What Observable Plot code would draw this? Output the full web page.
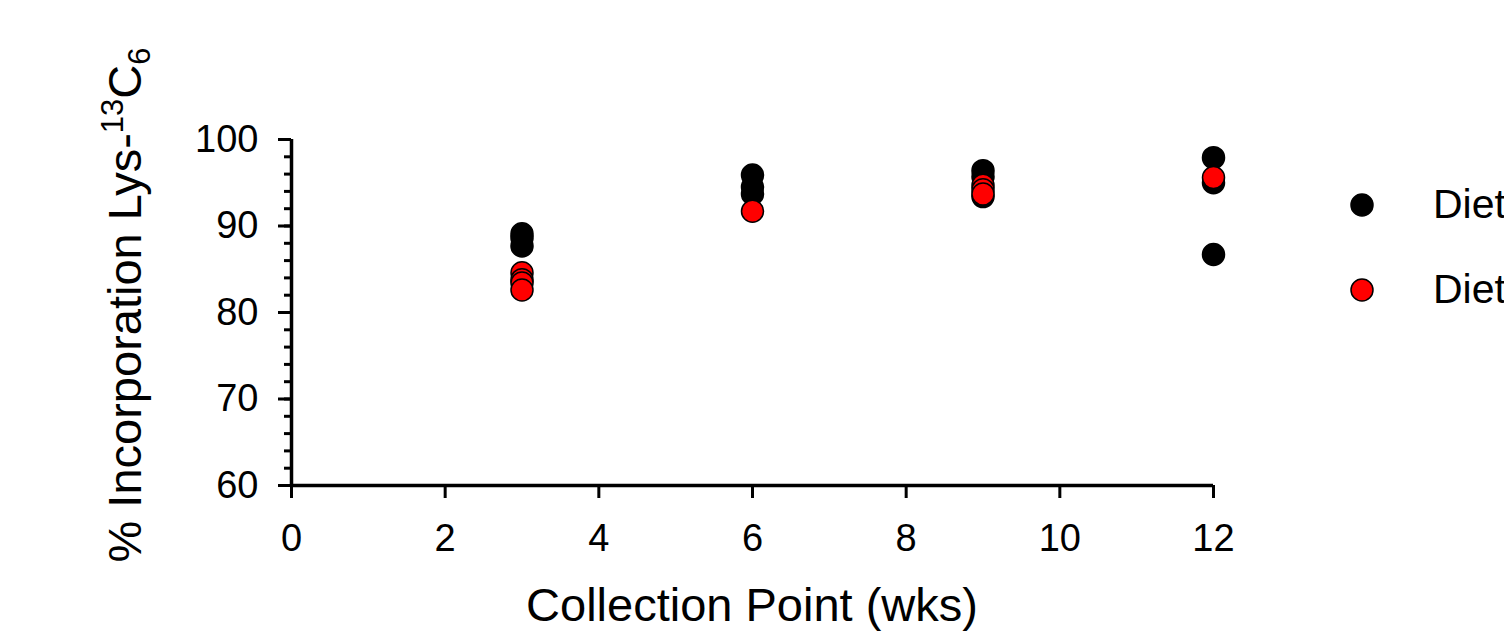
<!DOCTYPE html>
<html>
<head>
<meta charset="utf-8">
<script src="https://cdn.jsdelivr.net/npm/d3@7"></script>
<script src="https://cdn.jsdelivr.net/npm/@observablehq/plot@0.6"></script>
<style>
  html, body { margin: 0; padding: 0; background: #fff; overflow: hidden; }
  #wrap { position: relative; width: 1504px; height: 642px; font-family: "Liberation Sans", Arial, sans-serif; }
  #legend { position: absolute; left: 1349px; top: 162px; font-size: 41px; color: #000; }
  .item { display: flex; align-items: center; height: 85px; white-space: nowrap; }
  .item svg { margin-right: 58px; }
</style>
</head>
<body>
<div id="wrap"></div>
<script>
// Data
const seriesNames = ["Diet", "Diet"];
const seriesColors = ["#000000", "#ff0000"];

const diet1Weeks  = [3, 3, 3, 6, 6, 6, 9, 9, 9, 12, 12, 12];
const diet1Values = [89.1, 88.6, 87.7, 95.9, 94.5, 93.7, 96.4, 95.7, 93.4, 97.9, 95.0, 86.7];

const diet2Weeks  = [3, 3, 3, 3, 6, 9, 9, 9, 12];
const diet2Values = [84.6, 83.8, 83.4, 82.6, 91.7, 94.7, 94.2, 93.7, 95.6];

const xTicks = [0, 2, 4, 6, 8, 10, 12];
const yTicks = [60, 70, 80, 90, 100];
const yMinorTicks = d3.range(60, 101, 2);

const xLabel = "Collection Point (wks)";
const yLabelParts = ["% Incorporation Lys-", "13", "C", "6"];

const diet1 = diet1Weeks.map((w, i) => ({week: w, value: diet1Values[i]}));
const diet2 = diet2Weeks.map((w, i) => ({week: w, value: diet2Values[i]}));

const plot = Plot.plot({
  width: 1504,
  height: 642,
  marginLeft: 291,
  marginRight: 291,
  marginTop: 139,
  marginBottom: 157,
  style: {fontFamily: '"Liberation Sans", Arial, sans-serif', fontSize: "38px", color: "#000", background: "#fff", overflow: "visible"},
  x: {domain: [0, 12]},
  y: {domain: [60, 100]},
  marks: [
    Plot.axisY(yMinorTicks, {tickSize: 7, stroke: "#000", strokeWidth: 3, text: null, label: null}),
    Plot.axisY(yTicks, {tickSize: 13, tickPadding: 20, stroke: "#000", strokeWidth: 3, fontSize: 38, label: null}),
    Plot.axisX(xTicks, {tickSize: 13, tickPadding: 26, stroke: "#000", strokeWidth: 3, fontSize: 38, label: null}),
    Plot.ruleX([0], {y1: 60, y2: 100, strokeWidth: 3.5, stroke: "#000"}),
    Plot.ruleY([60], {x1: 0, x2: 12, strokeWidth: 3.5, stroke: "#000"}),
    Plot.dot(diet1, {x: "week", y: "value", r: 11, fill: seriesColors[0], stroke: "#000", strokeWidth: 1.5}),
    Plot.dot(diet2, {x: "week", y: "value", r: 11, fill: seriesColors[1], stroke: "#000", strokeWidth: 1.5})
  ]
});

const svg = d3.select(plot);
// x axis title
svg.append("text")
  .attr("x", 752).attr("y", 621)
  .attr("text-anchor", "middle")
  .style("font-size", "47px")
  .text(xLabel);

// y axis title with superscript / subscript
const yl = svg.append("text")
  .attr("transform", "translate(141,305) rotate(-90)")
  .attr("text-anchor", "middle")
  .style("font-size", "47px");
yl.append("tspan").text(yLabelParts[0]);
yl.append("tspan").attr("dy", -18).style("font-size", "31px").text(yLabelParts[1]);
yl.append("tspan").attr("dy", 18).text(yLabelParts[2]);
yl.append("tspan").attr("dy", 9).style("font-size", "31px").text(yLabelParts[3]);

const wrap = document.getElementById("wrap");
wrap.appendChild(plot);

// legend
const legend = document.createElement("div");
legend.id = "legend";
seriesNames.forEach((name, i) => {
  const item = document.createElement("div");
  item.className = "item";
  item.innerHTML = `<svg width="26" height="26"><circle cx="13" cy="13" r="11" fill="${seriesColors[i]}" stroke="#000" stroke-width="1.5"/></svg><span>${name}</span>`;
  legend.appendChild(item);
});
wrap.appendChild(legend);
</script>
</body>
</html>
